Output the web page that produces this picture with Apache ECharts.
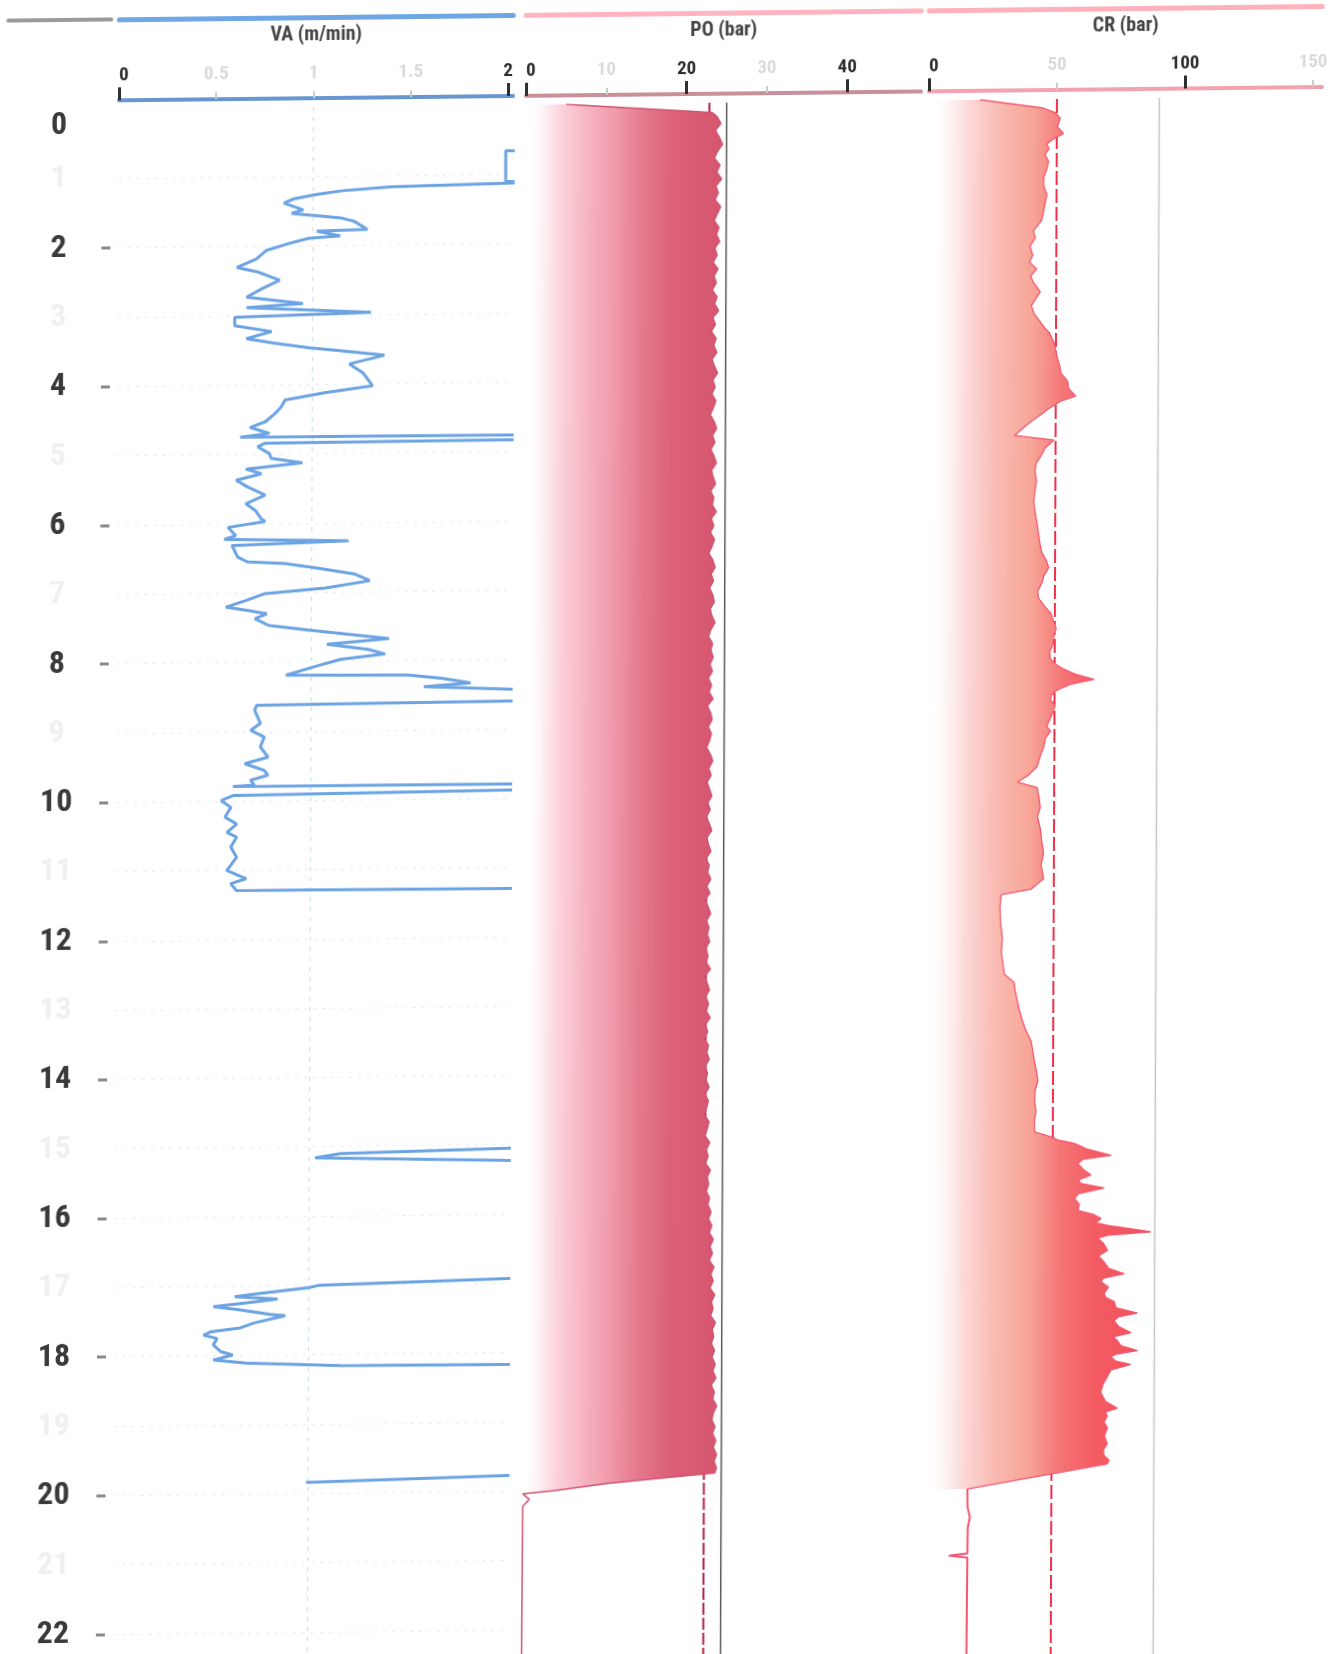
<!DOCTYPE html>
<html>
<head>
<meta charset="utf-8">
<script src="https://cdn.jsdelivr.net/npm/echarts@6/dist/echarts.min.js"></script>
<style>
html,body{margin:0;padding:0;background:#fff;overflow:hidden;width:1334px;height:1654px;}
#chart{position:absolute;left:0;top:0;width:1334px;height:1680px;transform-origin:60px 108px;transform:matrix(1,-0.0111,-0.004,1,0,0);}
</style>
</head>
<body>
<div id="chart"></div>
<script>
const FONT = '"Liberation Sans Narrow", "Roboto Condensed", "DejaVu Sans Condensed", Roboto, sans-serif';

// ---- depth axis ----
const depthMax = 22.65;
const depthMajorLabels = [0, 2, 4, 6, 8, 10, 12, 14, 16, 18, 20, 22];
const depthMajorTicks = [2, 4, 6, 8, 10, 12, 14, 16, 18, 20, 22];
const depthMinorLabels = [1, 3, 5, 7, 9, 11, 13, 15, 17, 19, 21];

// ---- track scales & tick labels ----
const trackNames = ['VA (m/min)', 'PO (bar)', 'CR (bar)'];
const vaMax = 2.026, vaMajorTicks = [0, 2], vaMinorTicks = [0.5, 1, 1.5];
const poMax = 49.2, poMajorTicks = [0, 20, 40], poMinorTicks = [10, 30];
const crMax = 153.5, crMajorTicks = [0, 100], crMinorTicks = [50, 150];

// ---- reference lines ----
const poMeanLine = 22.85, poMaxLine = 25.0;
const crMeanLine = 50, crMaxLine = 90;

// ---- VA samples [depth, m/min] (values > 2 run off the track) ----
const vaSamples = [
 [0.00,3.0],[0.64,3.0],[0.66,1.99],[1.10,1.99],[1.12,2.1],[1.16,1.40],[1.21,1.15],[1.26,1.02],[1.32,0.90],[1.38,0.85],
 [1.48,0.95],[1.53,0.89],[1.60,1.14],[1.65,1.21],[1.77,1.28],[1.79,1.02],[1.86,1.14],[1.89,0.98],[1.96,0.88],[2.06,0.76],
 [2.18,0.71],[2.30,0.61],[2.37,0.72],[2.49,0.83],[2.61,0.74],[2.73,0.66],[2.83,0.95],[2.88,0.66],[2.97,1.30],[3.02,0.60],
 [3.14,0.60],[3.23,0.79],[3.33,0.66],[3.40,0.81],[3.47,0.98],[3.52,1.15],[3.59,1.37],[3.71,1.19],[3.84,1.26],[4.03,1.31],
 [4.12,1.07],[4.22,0.86],[4.32,0.84],[4.41,0.81],[4.53,0.76],[4.61,0.68],[4.70,0.78],[4.75,0.63],[4.77,3.0],[4.82,3.0],
 [4.84,0.76],[4.89,0.72],[4.99,0.78],[5.06,0.79],[5.13,0.95],[5.21,0.66],[5.28,0.74],[5.37,0.61],[5.47,0.67],[5.59,0.76],
 [5.71,0.66],[5.81,0.71],[5.93,0.74],[5.97,0.76],[6.05,0.57],[6.17,0.61],[6.22,0.55],[6.26,1.19],[6.31,0.59],[6.48,0.62],
 [6.55,0.67],[6.58,0.86],[6.65,1.03],[6.74,1.22],[6.84,1.30],[6.94,1.07],[7.01,0.76],[7.10,0.67],[7.20,0.56],[7.25,0.67],
 [7.30,0.77],[7.37,0.71],[7.47,0.78],[7.54,0.98],[7.61,1.19],[7.68,1.40],[7.75,1.08],[7.83,1.29],[7.90,1.38],[7.97,1.15],
 [8.07,1.02],[8.19,0.87],[8.21,1.50],[8.26,1.67],[8.33,1.82],[8.38,1.58],[8.43,2.03],[8.45,3.0],[8.58,3.0],[8.62,0.72],
 [8.69,0.71],[8.88,0.74],[8.98,0.69],[9.08,0.76],[9.22,0.74],[9.37,0.78],[9.46,0.66],[9.56,0.76],[9.63,0.78],[9.70,0.69],
 [9.77,0.71],[9.79,0.60],[9.80,3.0],[9.86,3.0],[9.92,0.60],[9.99,0.54],[10.09,0.59],[10.23,0.56],[10.33,0.62],[10.45,0.57],
 [10.52,0.62],[10.66,0.59],[10.81,0.62],[11.00,0.57],[11.12,0.67],[11.19,0.59],[11.29,0.62],[11.31,3.0],[15.04,3.0],[15.05,2.05],
 [15.10,1.16],[15.16,1.03],[15.23,2.05],[15.24,3.0],[16.92,3.0],[16.93,2.05],[17.00,1.05],[17.03,1.00],[17.12,0.70],[17.15,0.62],
 [17.19,0.84],[17.24,0.68],[17.29,0.51],[17.34,0.65],[17.41,0.80],[17.43,0.88],[17.53,0.72],[17.60,0.65],[17.65,0.50],[17.70,0.46],
 [17.75,0.53],[17.84,0.51],[17.94,0.55],[17.99,0.61],[18.06,0.51],[18.11,0.68],[18.16,1.16],[18.17,2.03],[18.18,3.0],[19.76,3.0],
 [19.77,2.04],[19.84,0.99]
];

// ---- PO samples (bar) ----
const poHeadSamples = [[0.00,5.0],[0.14,23.2]];
const poRegularStart = 0.2, poRegularStep = 0.1;
const poRegularValues = [
 23.8,24.3,23.6,24.1,24.5,23.9,23.5,24.2,23.8,24.4,23.7,24.0,23.6,24.3,23.9,23.5,24.1,23.8,24.2,
 23.6,23.9,23.4,24.0,23.5,23.8,23.3,23.9,23.6,24.1,23.4,23.7,23.2,23.8,23.5,23.9,23.3,23.6,24.0,23.4,
 23.7,23.3,23.8,23.5,23.1,23.6,23.9,23.4,23.7,23.2,23.6,23.9,23.3,23.5,23.8,23.2,23.6,23.4,23.9,23.3,
 23.6,23.2,23.7,23.4,23.0,23.5,23.8,23.3,23.6,23.1,23.5,23.7,23.2,23.4,23.8,23.3,23.0,23.5,23.3,23.6,
 23.2,23.5,23.0,23.4,23.1,23.6,22.9,23.3,23.5,23.0,23.4,23.2,22.8,23.3,23.6,23.1,23.4,22.9,23.2,23.5,
 23.0,23.3,22.8,23.2,23.5,22.9,23.1,23.4,22.8,23.2,23.0,23.4,22.9,23.3,22.7,23.1,23.4,22.9,23.2,23.0,
 23.3,22.8,23.1,22.9,23.4,22.7,23.0,23.3,22.8,23.2,22.9,23.4,22.8,23.1,22.7,23.2,23.0,23.3,22.8,23.1,
 22.9,23.3,22.8,23.2,23.0,22.7,23.3,23.1,22.8,23.4,23.0,23.2,22.9,23.5,23.1,23.3,23.0,23.4,23.2,23.6,
 23.3,23.7,23.4,23.9,23.5,23.8,23.4,24.0,23.6,23.9,23.5,24.1,23.7,23.9,23.6,24.2,23.8,24.0,23.7,24.1,
 23.8,24.2,23.9,24.3,23.7,24.1,23.9,24.4,24.0,23.8,24.2,23.9,24.3,24.0,24.4,24.1,24.4
];
const poTailSamples = [[19.77,24.2],[19.90,10.9],[20.00,4.2],[20.04,0.3],[20.12,1.1],[20.22,0.3],[22.70,0.2]];

// ---- CR samples [depth, bar] ----
const crSamples = [
 [0.00,20.0],[0.13,44.7],[0.20,49.5],[0.28,51.3],[0.40,50.2],[0.50,52.6],[0.58,48.5],[0.65,46.1],[0.72,47.0],[0.80,45.4],
 [0.90,46.8],[1.02,46.1],[1.12,45.0],[1.24,44.9],[1.38,46.2],[1.53,45.4],[1.65,44.8],[1.75,44.2],[1.90,41.0],[2.00,41.8],
 [2.12,39.7],[2.25,40.8],[2.35,39.5],[2.45,42.3],[2.55,40.0],[2.65,41.2],[2.78,43.8],[2.88,42.0],[2.98,40.3],[3.10,41.5],
 [3.20,43.6],[3.30,45.5],[3.37,47.4],[3.52,49.3],[3.65,50.0],[3.74,50.6],[3.85,51.5],[3.96,52.0],[4.07,54.6],[4.18,55.0],
 [4.29,57.8],[4.36,52.0],[4.48,46.7],[4.56,44.0],[4.62,41.5],[4.72,38.0],[4.85,33.9],[4.92,49.4],[5.03,46.0],[5.14,44.4],
 [5.25,42.5],[5.36,42.0],[5.50,42.6],[5.66,42.0],[5.80,41.6],[5.95,42.1],[6.10,42.8],[6.25,43.4],[6.40,44.0],[6.54,44.8],
 [6.65,46.5],[6.76,47.5],[6.88,45.6],[6.98,44.9],[7.10,43.2],[7.20,43.6],[7.32,46.0],[7.42,48.4],[7.54,49.5],[7.64,50.5],
 [7.76,49.6],[7.86,49.3],[7.98,48.0],[8.08,48.3],[8.16,50.5],[8.23,53.6],[8.30,58.0],[8.38,65.4],[8.45,56.0],[8.53,51.0],
 [8.60,48.8],[8.67,48.4],[8.75,50.2],[8.82,49.7],[8.95,48.2],[9.05,47.0],[9.12,48.5],[9.22,46.5],[9.34,45.9],[9.48,44.5],
 [9.63,43.3],[9.75,40.0],[9.85,35.7],[9.93,43.3],[10.05,44.0],[10.22,44.6],[10.35,43.5],[10.52,44.6],[10.70,45.2],[10.88,45.9],
 [11.05,45.0],[11.25,46.0],[11.40,41.0],[11.47,29.5],[11.65,29.0],[11.88,29.3],[12.10,30.0],[12.30,29.6],[12.45,30.2],[12.62,30.8],
 [12.74,34.6],[12.88,35.2],[13.02,36.0],[13.15,36.8],[13.31,38.1],[13.45,39.5],[13.59,41.4],[13.72,42.0],[13.88,42.7],[14.02,43.5],
 [14.16,44.1],[14.30,43.0],[14.45,42.8],[14.60,43.4],[14.73,42.8],[14.90,42.9],[14.96,48.0],[15.02,52.0],[15.07,58.4],[15.15,63.0],
 [15.25,72.8],[15.30,62.0],[15.36,59.8],[15.45,62.0],[15.53,65.0],[15.60,60.0],[15.65,61.1],[15.72,70.2],[15.80,60.0],[15.87,58.6],
 [15.95,60.5],[16.04,59.9],[16.10,66.0],[16.16,69.0],[16.22,67.0],[16.27,72.9],[16.36,88.4],[16.40,72.0],[16.44,67.6],[16.52,70.0],
 [16.62,71.6],[16.70,68.0],[16.79,70.3],[16.88,72.0],[16.96,78.1],[17.02,70.0],[17.07,69.0],[17.15,72.0],[17.24,70.3],[17.30,71.0],
 [17.36,74.2],[17.45,75.0],[17.53,83.3],[17.58,76.0],[17.64,74.2],[17.72,76.0],[17.81,80.8],[17.87,74.0],[17.93,75.6],[18.00,77.0],
 [18.07,83.4],[18.12,75.0],[18.16,73.0],[18.22,75.0],[18.27,80.8],[18.35,73.0],[18.44,71.7],[18.55,70.0],[18.67,69.1],[18.80,71.0],
 [18.90,75.6],[18.95,71.0],[19.01,71.7],[19.10,70.5],[19.18,71.8],[19.30,70.6],[19.41,71.8],[19.50,70.2],[19.58,70.5],[19.65,72.5],
 [19.70,71.8],[20.04,17.2],[20.30,17.3],[20.45,18.2],[20.60,17.4],[20.97,17.3],[21.00,10.0],[21.03,17.3],[22.70,17.0]
];
const crFillEndDepth = 20.04;

// ---- colours ----
const vaColor = '#6ba3e3';
const poColor = '#cf5470';
const crColor = '#f4566e';

// ---------- build ----------
const T = 1000; // depth -> time-axis units for the filled tracks
const poSamples = poHeadSamples
  .concat(poRegularValues.map((v, i) => [+(poRegularStart + i * poRegularStep).toFixed(2), v]))
  .concat(poTailSamples);

const GRID_TOP = 110;
const HEADER_OFFSET = GRID_TOP - 20;
const AXIS_OFFSET = GRID_TOP - 101;
const grids = [
  {left: 8,   top: GRID_TOP, width: 103, bottom: 0},
  {left: 119, top: GRID_TOP, width: 394, bottom: 0},
  {left: 526, top: GRID_TOP, width: 395, bottom: 0},
  {left: 929, top: GRID_TOP, width: 393, bottom: 0}
].map(g => Object.assign({outerBoundsMode: 'none', containLabel: false}, g));

function headerAxis(gridIndex, color, width, name, max) {
  return {
    type: 'value', gridIndex, position: 'top', offset: HEADER_OFFSET, min: 0, max,
    axisLine: {show: true, onZero: false, lineStyle: {color, width}},
    axisTick: {show: false}, axisLabel: {show: false}, splitLine: {show: false},
    name: name || '', nameLocation: 'middle', nameGap: -28, nameMoveOverlap: false,
    nameTextStyle: {fontFamily: FONT, fontWeight: 'bold', fontSize: 20, color: '#454545'}
  };
}
function minorAxis(gridIndex, max, interval, ticks, lineColor, split) {
  return {
    type: 'value', gridIndex, position: 'top', offset: AXIS_OFFSET, min: 0, max, interval,
    axisLine: {show: true, onZero: false, lineStyle: {color: lineColor, width: 4}},
    axisTick: {show: true, customValues: ticks, length: 7, lineStyle: {color: '#cccccc', width: 2}},
    axisLabel: {show: true, customValues: ticks, margin: 15, fontFamily: FONT, fontWeight: 'bold', fontSize: 19, color: '#dadada'},
    splitLine: split ? {show: true, showMinLine: false, showMaxLine: false,
      lineStyle: {type: [4, 6], color: 'rgba(95,150,220,0.32)', width: 1.2}} : {show: false}
  };
}
function majorAxis(gridIndex, max, interval, ticks) {
  return {
    type: 'value', gridIndex, position: 'top', offset: AXIS_OFFSET, min: 0, max, interval,
    axisLine: {show: false, onZero: false},
    axisTick: {show: true, customValues: ticks, length: 13, lineStyle: {color: '#2e2e2e', width: 3}},
    axisLabel: {show: true, customValues: ticks, margin: 15, alignMinLabel: 'left',
      fontFamily: FONT, fontWeight: 'bold', fontSize: 19, color: '#2e2e2e'},
    splitLine: {show: false}
  };
}

const xAxis = [
  headerAxis(0, '#9b9b9b', 4, '', 1),                         // 0
  headerAxis(1, '#6fa7e5', 5, trackNames[0], vaMax),          // 1
  minorAxis(1, vaMax, 0.5, vaMinorTicks, '#6897d0', true),    // 2
  majorAxis(1, vaMax, 2, vaMajorTicks),                       // 3
  headerAxis(2, '#ffb4c0', 5, trackNames[1], poMax),          // 4
  minorAxis(2, poMax, 10, poMinorTicks, '#c8909b', false),    // 5
  majorAxis(2, poMax, 20, poMajorTicks),                      // 6
  headerAxis(3, '#ffb1bb', 5, trackNames[2], crMax),          // 7
  minorAxis(3, crMax, 50, crMinorTicks, '#f4a2ad', false),    // 8
  majorAxis(3, crMax, 100, crMajorTicks)                      // 9
];

const yAxis = [
  {type: 'value', gridIndex: 0, inverse: true, min: 0, max: depthMax, show: false},
  {type: 'value', gridIndex: 1, inverse: true, min: 0, max: depthMax, interval: 2, position: 'left', offset: 8,
    axisLine: {show: false, onZero: false},
    axisTick: {show: true, customValues: depthMajorTicks, length: 9, lineStyle: {color: '#8a8a8a', width: 3}},
    axisLabel: {show: true, customValues: depthMajorLabels, margin: 52, align: 'center', verticalAlignMinLabel: 'top',
      fontFamily: FONT, fontWeight: 'bold', fontSize: 32, color: '#3a3a3a'},
    splitLine: {show: false}},
  {type: 'value', gridIndex: 1, inverse: true, min: 0, max: depthMax, interval: 1, position: 'left', offset: 8,
    axisLine: {show: false, onZero: false}, axisTick: {show: false},
    axisLabel: {show: true, customValues: depthMinorLabels, margin: 52, align: 'center',
      fontFamily: FONT, fontWeight: 'bold', fontSize: 32, color: '#f0f0f0'},
    splitLine: {show: true, showMinLine: false, showMaxLine: false,
      lineStyle: {type: [3, 6], color: 'rgba(95,150,220,0.18)', width: 1.2}}},
  {type: 'time', gridIndex: 2, inverse: true, min: 0, max: depthMax * T, show: false},
  {type: 'time', gridIndex: 3, inverse: true, min: 0, max: depthMax * T, show: false}
];

function vLine(xIdx, yIdx, value, color, width, dash) {
  return {type: 'line', xAxisIndex: xIdx, yAxisIndex: yIdx, silent: true, z: 1,
    symbol: 'none', showSymbol: false, animation: false,
    data: [[value, 0], [value, depthMax * T]],
    lineStyle: {color, width, type: dash || 'solid'}};
}

const poGradient = {type: 'linear', x: 0, y: 0, x2: 1, y2: 0, colorStops: [
  {offset: 0, color: 'rgba(255,255,255,0)'}, {offset: 0.1, color: '#fdeef2'},
  {offset: 0.18, color: '#fbd3dc'}, {offset: 0.32, color: '#f6b3c0'},
  {offset: 0.45, color: '#f09aab'}, {offset: 0.6, color: '#e5788d'},
  {offset: 0.75, color: '#db6179'}, {offset: 1, color: '#d6556e'}]};
const crGradient = {type: 'linear', x: 0, y: 0, x2: 1, y2: 0, colorStops: [
  {offset: 0, color: 'rgba(255,255,255,0)'}, {offset: 0.08, color: 'rgba(253,240,240,0.6)'},
  {offset: 0.17, color: '#fcdada'}, {offset: 0.3, color: '#f9bcb4'},
  {offset: 0.46, color: '#f7a597'}, {offset: 0.6, color: '#f57575'},
  {offset: 0.75, color: '#f35c62'}, {offset: 1, color: '#f24f5c'}]};

const series = [
  vLine(6, 3, poMeanLine, '#b42248', 2, [12, 3]),
  vLine(6, 3, poMaxLine, '#5a5a5a', 1.5),
  vLine(9, 4, crMeanLine, '#f0304a', 2, [14, 4]),
  vLine(9, 4, crMaxLine, '#c6c6c6', 1.5),
  {type: 'line', name: 'PO', xAxisIndex: 6, yAxisIndex: 3, z: 2, symbol: 'none', showSymbol: false, animation: false,
    data: poSamples.map(p => [p[1], p[0] * T]),
    lineStyle: {color: poColor, width: 1.5}, areaStyle: {color: poGradient, opacity: 1}},
  {type: 'line', name: 'CR', xAxisIndex: 9, yAxisIndex: 4, z: 2, symbol: 'none', showSymbol: false, animation: false,
    data: crSamples.filter(p => p[0] <= crFillEndDepth).map(p => [p[1], p[0] * T]),
    lineStyle: {color: crColor, width: 1.3}, areaStyle: {color: crGradient, opacity: 1}},
  {type: 'line', name: 'CR tail', xAxisIndex: 9, yAxisIndex: 4, z: 2, symbol: 'none', showSymbol: false, animation: false,
    data: crSamples.filter(p => p[0] >= crFillEndDepth).map(p => [p[1], p[0] * T]),
    lineStyle: {color: crColor, width: 2}},
  {type: 'line', name: 'VA', xAxisIndex: 3, yAxisIndex: 1, z: 3, symbol: 'none', showSymbol: false, animation: false,
    data: vaSamples.map(p => [p[1], p[0]]),
    lineStyle: {color: vaColor, width: 3}}
];

const chart = echarts.init(document.getElementById('chart'), null, {renderer: 'canvas'});
chart.setOption({backgroundColor: '#ffffff', animation: false, grid: grids, xAxis, yAxis, series});
</script>
</body>
</html>
